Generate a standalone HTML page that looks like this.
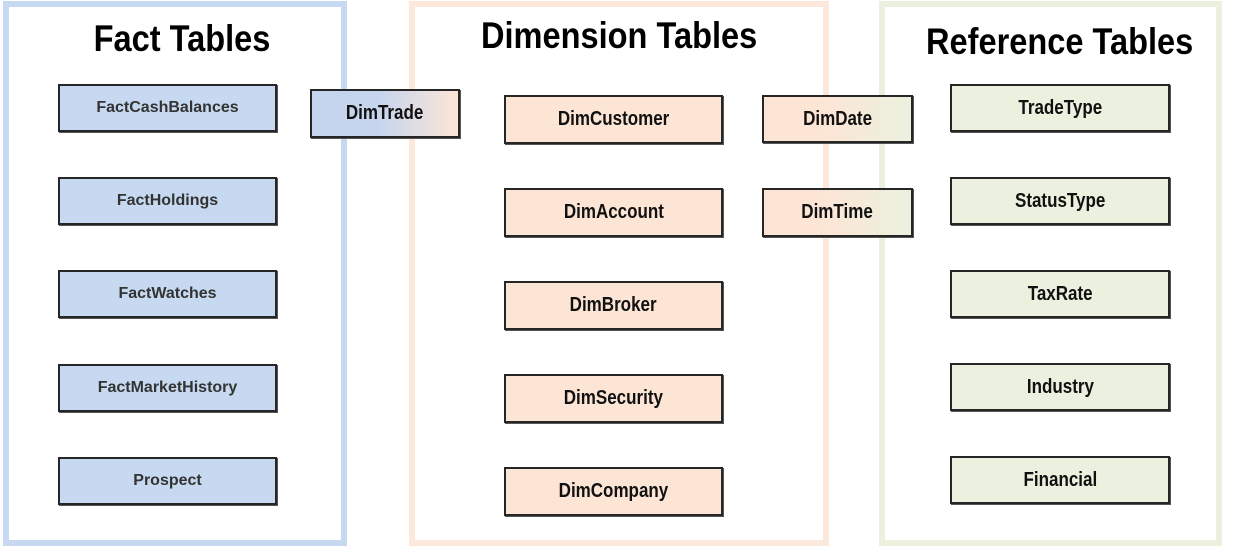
<!DOCTYPE html>
<html><head><style>
body{margin:0;width:1234px;height:560px;background:#fff;position:relative;overflow:hidden;font-family:"Liberation Sans",sans-serif}
.p{position:absolute;box-sizing:border-box;border:6px solid}
.t{position:absolute;font-weight:bold;font-size:37px;color:#000;text-align:center;white-space:nowrap;transform:scaleX(.88)}
.b{position:absolute;box-sizing:border-box;border:2px solid #262626;display:flex;align-items:center;justify-content:center;font-size:20px;color:#111;box-shadow:1px 1px 0 #555}
.b span{display:inline-block;transform:scaleX(.85);white-space:nowrap}
.f{background:#c6d9f0;font-weight:bold;font-size:16px;color:#333}
.f span{transform:scaleX(1)}
.d{background:#fde5d6;font-weight:bold}
.r{background:#ebf1de;font-weight:bold}
</style></head><body>
<div class="p" style="left:3px;top:1px;width:344px;height:545px;border-color:#c6d9f0"></div>
<div class="p" style="left:409px;top:1px;width:420px;height:545px;border-color:#fde9dc"></div>
<div class="p" style="left:879px;top:1px;width:343px;height:545px;border-color:#ebf1de"></div>
<div class="t" style="left:32px;width:300px;top:18px">Fact Tables</div>
<div class="t" style="left:463px;width:300px;top:15px">Dimension Tables</div>
<div class="t" style="left:908px;width:300px;top:21px">Reference Tables</div>

<div class="b f" style="left:58px;top:84px;width:219px;height:48px"><span>FactCashBalances</span></div>
<div class="b f" style="left:58px;top:177px;width:219px;height:48px"><span>FactHoldings</span></div>
<div class="b f" style="left:58px;top:270px;width:219px;height:48px"><span>FactWatches</span></div>
<div class="b f" style="left:58px;top:364px;width:219px;height:48px"><span>FactMarketHistory</span></div>
<div class="b f" style="left:58px;top:457px;width:219px;height:48px"><span>Prospect</span></div>

<div class="b" style="left:310px;top:89px;width:150px;height:49px;background:linear-gradient(90deg,#c6d5ee 0%,#c6d5ee 45%,#fde5d6 100%);font-weight:bold"><span>DimTrade</span></div>

<div class="b d" style="left:504px;top:95px;width:219px;height:49px"><span>DimCustomer</span></div>
<div class="b d" style="left:504px;top:188px;width:219px;height:49px"><span>DimAccount</span></div>
<div class="b d" style="left:504px;top:281px;width:219px;height:49px"><span>DimBroker</span></div>
<div class="b d" style="left:504px;top:374px;width:219px;height:49px"><span>DimSecurity</span></div>
<div class="b d" style="left:504px;top:467px;width:219px;height:49px"><span>DimCompany</span></div>

<div class="b" style="left:762px;top:95px;width:151px;height:48px;background:linear-gradient(90deg,#fde5d6 0%,#fde5d6 40%,#ebf1de 100%);font-weight:bold"><span>DimDate</span></div>
<div class="b" style="left:762px;top:188px;width:151px;height:49px;background:linear-gradient(90deg,#fde5d6 0%,#fde5d6 40%,#ebf1de 100%);font-weight:bold"><span>DimTime</span></div>

<div class="b r" style="left:950px;top:84px;width:220px;height:48px"><span>TradeType</span></div>
<div class="b r" style="left:950px;top:177px;width:220px;height:48px"><span>StatusType</span></div>
<div class="b r" style="left:950px;top:270px;width:220px;height:48px"><span>TaxRate</span></div>
<div class="b r" style="left:950px;top:363px;width:220px;height:48px"><span>Industry</span></div>
<div class="b r" style="left:950px;top:456px;width:220px;height:48px"><span>Financial</span></div>
</body></html>
